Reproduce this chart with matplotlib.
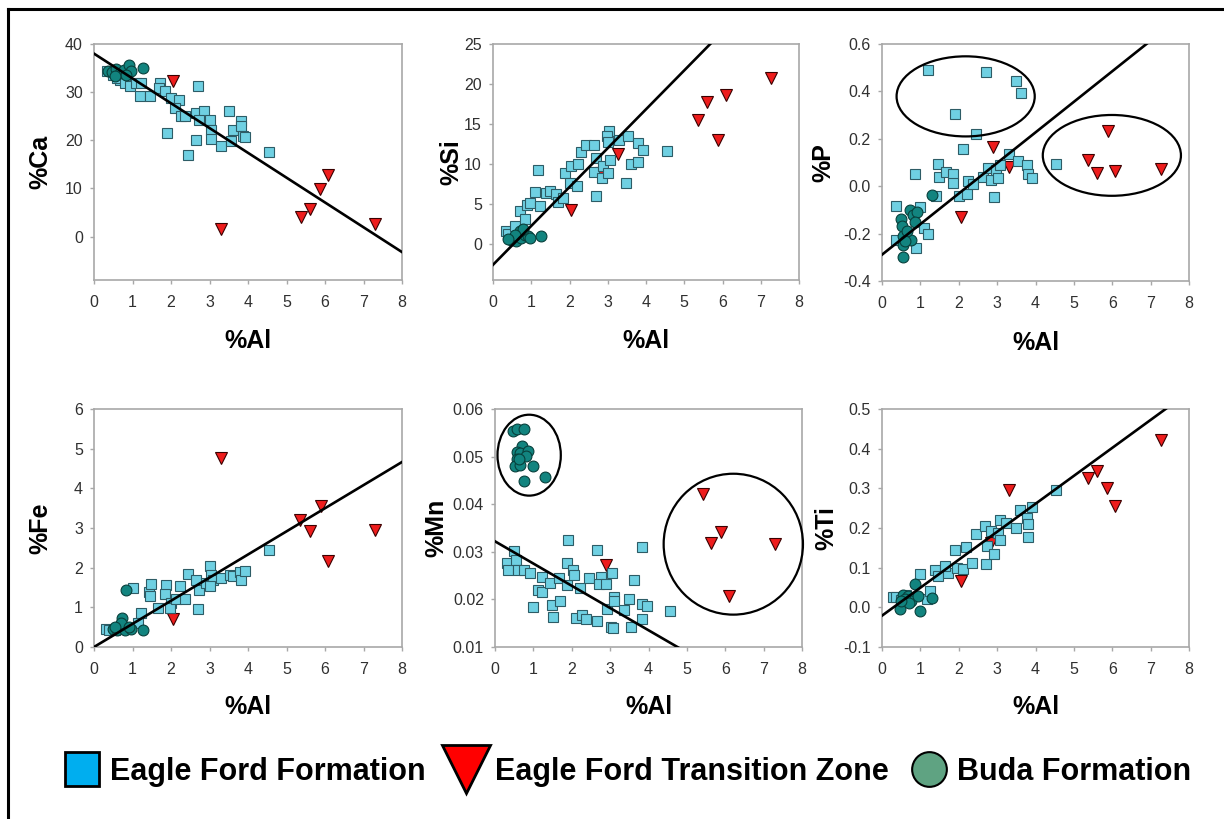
import matplotlib
matplotlib.use('Agg')
import matplotlib.pyplot as plt
from matplotlib.patches import Ellipse
from matplotlib.lines import Line2D
import numpy as np

plt.rcParams['font.family'] = ['Liberation Sans', 'DejaVu Sans']
plt.rcParams['axes.unicode_minus'] = False

# ---------------- data ----------------
# Panel %Ca
ca_ef_al = [0.35, 0.5, 0.67, 0.6, 0.8, 0.93, 1.1, 1.23, 1.19, 1.45, 1.71, 1.68, 1.84, 2.01, 2.2, 2.1,
            2.26, 2.36, 1.9, 2.45, 2.66, 2.69, 2.65, 2.86, 2.74, 3.0, 3.05, 3.04, 3.31, 3.51, 3.57,
            3.62, 3.81, 3.81, 3.88, 3.92, 4.55]
ca_ef = [34.3, 33.6, 32.6, 33.0, 32.0, 31.2, 31.9, 31.9, 29.2, 29.2, 31.9, 30.9, 30.3, 28.8, 28.3, 26.7,
         25.1, 25.1, 21.6, 16.9, 20.0, 31.2, 25.7, 26.0, 24.3, 24.3, 22.2, 20.3, 18.8, 26.0, 19.8,
         22.2, 24.0, 22.9, 21.0, 20.7, 17.5]
ca_tz_al = [2.05, 3.3, 5.37, 5.62, 5.88, 6.09, 7.29]
ca_tz = [32.3, 1.5, 4.1, 5.7, 9.8, 12.8, 2.7]
ca_bu_al = [0.36, 0.48, 0.58, 0.67, 0.77, 0.9, 0.97, 0.84, 0.54, 1.28]
ca_bu = [34.3, 34.1, 34.8, 34.0, 34.7, 35.7, 34.3, 33.6, 33.3, 35.0]
ca_fit = (38.0, -5.15)

# Panel %Si
si_ef_al = [0.35, 0.4, 0.57, 0.7, 0.83, 0.9, 0.98, 1.17, 1.09, 1.22, 1.39, 1.48, 1.65, 1.7, 1.83, 1.88,
            2.04, 2.0, 2.2, 2.23, 2.3, 2.43, 2.65, 2.7, 2.63, 2.7, 2.85, 2.87, 3.0, 3.03, 2.98, 3.0,
            3.07, 3.3, 3.52, 3.48, 3.6, 3.78, 3.8, 3.91, 4.54]
si_ef = [1.6, 1.3, 2.2, 4.1, 3.1, 4.9, 5.1, 9.3, 6.5, 4.8, 6.4, 6.6, 6.2, 5.3, 5.75, 8.9,
         9.7, 7.6, 7.2, 10.0, 11.5, 12.4, 12.4, 10.75, 9.0, 6.0, 8.25, 9.7, 8.9, 14.1, 13.5, 12.8,
         10.5, 13.0, 13.5, 7.6, 10.0, 10.2, 12.6, 11.8, 11.6]
si_tz_al = [2.03, 2.83, 3.26, 5.35, 5.6, 5.87, 6.09, 7.28]
si_tz = [4.2, 8.9, 11.2, 15.5, 17.7, 13.0, 18.6, 20.8]
si_bu_al = [0.48, 0.61, 0.74, 0.83, 0.91, 0.96, 0.7, 0.78, 1.26, 0.57, 0.39]
si_bu = [0.54, 0.33, 0.75, 1.17, 0.96, 0.75, 1.58, 1.88, 0.96, 1.17, 0.63]
si_fit = (-2.6, 4.86)

# Panel %P
p_ef_al = [1.21, 2.7, 3.5, 3.61, 1.89, 2.46, 2.11, 0.85, 1.46, 1.49, 1.66, 1.85, 1.85, 2.0, 2.24, 2.21,
           2.37, 2.64, 2.76, 2.85, 2.91, 2.98, 3.02, 3.07, 3.31, 3.55, 3.79, 3.81, 3.92, 4.54, 0.37,
           0.37, 0.89, 1.1, 1.2, 1.42, 0.98]
p_ef = [0.489, 0.48, 0.442, 0.395, 0.304, 0.219, 0.156, 0.051, 0.094, 0.04, 0.061, 0.051, 0.012, -0.042,
        0.023, -0.033, 0.009, 0.04, 0.075, 0.026, -0.045, 0.068, 0.033, 0.089, 0.136, 0.108, 0.089,
        0.051, 0.036, 0.092, -0.084, -0.228, -0.259, -0.178, -0.202, -0.042, -0.087]
p_tz_al = [2.05, 2.89, 3.31, 5.37, 5.6, 5.89, 6.08, 7.28]
p_tz = [-0.132, 0.167, 0.082, 0.11, 0.054, 0.235, 0.064, 0.071]
p_bu_al = [0.5, 0.53, 0.55, 0.55, 0.55, 0.72, 0.81, 0.9, 0.76, 0.85, 1.29, 0.65, 0.6]
p_bu = [-0.14, -0.17, -0.21, -0.25, -0.298, -0.1, -0.12, -0.11, -0.225, -0.15, -0.037, -0.19, -0.23]
p_fit = (-0.289, 0.129)
p_ellipses = [(2.18, 0.379, 3.6, 0.338), (5.99, 0.130, 3.6, 0.341)]

# Panel %Fe
fe_ef_al = [0.3, 0.4, 0.55, 0.65, 1.0, 1.21, 1.15, 1.42, 1.48, 1.45, 1.67, 1.87, 1.84, 2.01, 1.97, 2.14,
            2.23, 2.36, 2.45, 2.66, 2.73, 2.71, 2.91, 3.0, 3.05, 3.1, 3.01, 3.31, 3.53, 3.62, 3.79,
            3.81, 3.92, 4.55]
fe_ef = [0.45, 0.42, 0.44, 0.48, 1.49, 0.86, 0.6, 1.38, 1.6, 1.28, 0.98, 1.57, 1.34, 1.11, 0.98, 1.21,
         1.53, 1.21, 1.85, 1.7, 1.43, 0.96, 1.61, 2.03, 1.82, 1.7, 1.53, 1.74, 1.82, 1.78, 1.88,
         1.7, 1.91, 2.45]
fe_tz_al = [2.04, 3.3, 5.36, 5.61, 5.89, 6.09, 7.29]
fe_tz = [0.71, 4.76, 3.19, 2.92, 3.56, 2.16, 2.96]
fe_bu_al = [0.84, 0.74, 0.5, 0.6, 0.8, 0.97, 1.28, 0.7, 0.55, 0.9]
fe_bu = [1.43, 0.73, 0.45, 0.42, 0.44, 0.46, 0.42, 0.6, 0.5, 0.5]
fe_fit = (0.0, 0.583)

# Panel %Mn
mn_ef_al = [0.3, 0.35, 0.5, 0.55, 0.6, 0.75, 0.9, 1.0, 1.13, 1.22, 1.22, 1.43, 1.48, 1.52, 1.7, 1.68,
            1.87, 1.87, 1.9, 2.03, 2.06, 2.11, 2.22, 2.26, 2.37, 2.46, 2.65, 2.65, 2.76, 2.72, 2.9,
            2.91, 3.02, 3.04, 3.09, 3.09, 3.07, 3.35, 3.5, 3.55, 3.61, 3.83, 3.83, 3.84, 3.96, 4.55]
mn_ef = [0.0277, 0.0262, 0.0301, 0.0283, 0.0262, 0.0262, 0.0255, 0.0184, 0.0220, 0.0215, 0.0248,
         0.0234, 0.0189, 0.0164, 0.0196, 0.0245, 0.0277, 0.0231, 0.0325, 0.0261, 0.0252, 0.0161,
         0.0224, 0.0168, 0.0159, 0.0245, 0.0154, 0.0303, 0.0248, 0.0233, 0.0233, 0.0180, 0.0143,
         0.0255, 0.0206, 0.0196, 0.0140, 0.0177, 0.0201, 0.0141, 0.0241, 0.0191, 0.0159, 0.0311,
         0.0186, 0.0175]
mn_tz_al = [2.9, 5.41, 5.63, 5.9, 6.1, 7.3]
mn_tz = [0.0272, 0.0422, 0.0318, 0.0341, 0.0207, 0.0317]
mn_bu_al = [0.48, 0.58, 0.76, 0.7, 0.57, 0.65, 0.87, 0.81, 0.57, 0.52, 0.65, 0.98, 0.76, 1.3, 0.63]
mn_bu = [0.0553, 0.0557, 0.0558, 0.0522, 0.0509, 0.0508, 0.0511, 0.0502, 0.0494, 0.0480, 0.0483,
         0.0480, 0.0448, 0.0457, 0.0496]
mn_fit = (0.0322, -0.00467)
mn_ellipses = [(0.89, 0.0503, 1.65, 0.0170), (6.21, 0.0316, 3.63, 0.0296)]

# Panel %Ti
ti_ef_al = [0.29, 0.37, 0.5, 0.63, 0.98, 1.17, 1.24, 1.37, 1.46, 1.72, 1.63, 1.89, 1.95, 2.1, 2.2, 2.35,
            2.44, 2.68, 2.7, 2.74, 2.85, 2.91, 3.02, 3.07, 3.08, 3.24, 3.5, 3.6, 3.79, 3.81, 3.81,
            3.92, 4.54]
ti_ef = [0.026, 0.026, 0.019, 0.032, 0.084, 0.021, 0.04, 0.093, 0.078, 0.087, 0.103, 0.145, 0.099,
         0.097, 0.152, 0.112, 0.185, 0.206, 0.108, 0.154, 0.192, 0.135, 0.187, 0.171, 0.219, 0.213,
         0.2, 0.246, 0.225, 0.211, 0.177, 0.253, 0.295]
ti_tz_al = [2.05, 2.85, 3.3, 5.37, 5.6, 5.87, 6.08, 7.28]
ti_tz = [0.066, 0.162, 0.297, 0.326, 0.343, 0.301, 0.256, 0.421]
ti_bu_al = [0.46, 0.55, 0.68, 0.85, 0.76, 0.98, 0.94, 1.29, 0.6, 0.7, 0.5]
ti_bu = [-0.004, 0.032, 0.028, 0.058, 0.015, -0.008, 0.028, 0.024, 0.02, 0.01, 0.015]
ti_fit = (-0.021, 0.0705)

x_ticks = [0, 1, 2, 3, 4, 5, 6, 7, 8]
legend_labels = ['Eagle Ford Formation', 'Eagle Ford Transition Zone', 'Buda Formation']

# ---------------- styling ----------------
W, H = 1224, 819
fig = plt.figure(figsize=(W / 100, H / 100), dpi=100)
fig.patch.set_facecolor('white')

EF_FACE, EF_EDGE = '#6fd0e2', '#2d5c66'
TZ_FACE, TZ_EDGE = '#ee1c1c', '#3a0000'
BU_FACE, BU_EDGE = '#12847f', '#08403c'


def px_axes(l, r, t, b):
    return fig.add_axes([l / W, 1 - b / H, (r - l) / W, (b - t) / H])


def draw(ax, ef_x, ef_y, tz_x, tz_y, bu_x, bu_y, fit, ylim, yticks, fmt, ylabel, ylab_x, xlab_y):
    ax.plot(tz_x, tz_y, linestyle='none', marker='v', ms=8.5, mfc=TZ_FACE, mec=TZ_EDGE, mew=0.8, zorder=3)
    ax.plot(ef_x, ef_y, linestyle='none', marker='s', ms=7.4, mfc=EF_FACE, mec=EF_EDGE, mew=0.8, zorder=4)
    ax.plot(bu_x, bu_y, linestyle='none', marker='o', ms=7.8, mfc=BU_FACE, mec=BU_EDGE, mew=0.8, zorder=5)
    xx = np.array([0.0, 8.0])
    ax.plot(xx, fit[0] + fit[1] * xx, color='black', lw=1.9, zorder=6)
    ax.set_xlim(0, 8)
    ax.set_xticks(x_ticks)
    ax.set_ylim(*ylim)
    ax.set_yticks(yticks)
    ax.set_yticklabels([fmt.format(v) for v in yticks])
    for s in ax.spines.values():
        s.set_color('#a8a8a8')
        s.set_linewidth(1.2)
    ax.tick_params(direction='out', length=3, width=1, color='#a8a8a8', labelsize=11.5, labelcolor='#303030')
    ax.tick_params(axis='x', pad=8)
    ax.tick_params(axis='y', pad=5)
    ax.set_ylabel(ylabel, fontsize=18, fontweight='bold', ha='center', va='center')
    ax.yaxis.set_label_coords(ylab_x, 0.5)
    ax.set_xlabel('%Al', fontsize=18, fontweight='bold', va='center')
    ax.xaxis.set_label_coords(0.5, xlab_y)


ax1 = px_axes(94, 402, 44, 280)
draw(ax1, ca_ef_al, ca_ef, ca_tz_al, ca_tz, ca_bu_al, ca_bu, ca_fit, (-9, 40), [0, 10, 20, 30, 40],
     '{:.0f}', '%Ca', -0.175, -0.26)
ax2 = px_axes(493, 799, 44, 280)
draw(ax2, si_ef_al, si_ef, si_tz_al, si_tz, si_bu_al, si_bu, si_fit, (-4.5, 25), [0, 5, 10, 15, 20, 25],
     '{:.0f}', '%Si', -0.135, -0.26)
ax3 = px_axes(882, 1189, 44, 281)
draw(ax3, p_ef_al, p_ef, p_tz_al, p_tz, p_bu_al, p_bu, p_fit, (-0.4, 0.6), [-0.4, -0.2, 0.0, 0.2, 0.4, 0.6],
     '{:.1f}', '%P', -0.19, -0.26)
ax4 = px_axes(94, 402, 409, 647)
draw(ax4, fe_ef_al, fe_ef, fe_tz_al, fe_tz, fe_bu_al, fe_bu, fe_fit, (0, 6), [0, 1, 2, 3, 4, 5, 6],
     '{:.0f}', '%Fe', -0.175, -0.25)
ax5 = px_axes(495, 802, 409, 647)
draw(ax5, mn_ef_al, mn_ef, mn_tz_al, mn_tz, mn_bu_al, mn_bu, mn_fit, (0.01, 0.06),
     [0.01, 0.02, 0.03, 0.04, 0.05, 0.06], '{:.2f}', '%Mn', -0.19, -0.25)
ax6 = px_axes(882, 1189, 409, 647)
draw(ax6, ti_ef_al, ti_ef, ti_tz_al, ti_tz, ti_bu_al, ti_bu, ti_fit, (-0.1, 0.5),
     [-0.1, 0.0, 0.1, 0.2, 0.3, 0.4, 0.5], '{:.1f}', '%Ti', -0.18, -0.25)

for cx, cy, w, h in p_ellipses:
    ax3.add_patch(Ellipse((cx, cy), w, h, fill=False, ec='black', lw=1.6, clip_on=False, zorder=7))
for cx, cy, w, h in mn_ellipses:
    ax5.add_patch(Ellipse((cx, cy), w, h, fill=False, ec='black', lw=1.6, clip_on=False, zorder=7))

# frame lines (top and left) of the outer box
fig.add_artist(Line2D([8 / W, 8 / W], [0, 1 - 9 / H], transform=fig.transFigure, color='black', lw=2.2))
fig.add_artist(Line2D([8 / W, 1], [1 - 9 / H, 1 - 9 / H], transform=fig.transFigure, color='black', lw=2.2))

# legend
handles = [
    Line2D([], [], linestyle='none', marker='s', ms=25, mfc='#00aeef', mec='black', mew=2),
    Line2D([], [], linestyle='none', marker='v', ms=34, mfc='#ff0000', mec='black', mew=2),
    Line2D([], [], linestyle='none', marker='o', ms=25, mfc='#5fa382', mec='black', mew=1.5),
]
leg = fig.legend(handles, legend_labels, loc='center', bbox_to_anchor=(624 / W, 1 - 772 / H), ncol=3,
                 frameon=False, handlelength=1.65, handletextpad=0.1, columnspacing=0.5,
                 prop={'family': 'Liberation Sans', 'weight': 'bold', 'size': 22})

fig.savefig('out.png', dpi=100, facecolor='white')
